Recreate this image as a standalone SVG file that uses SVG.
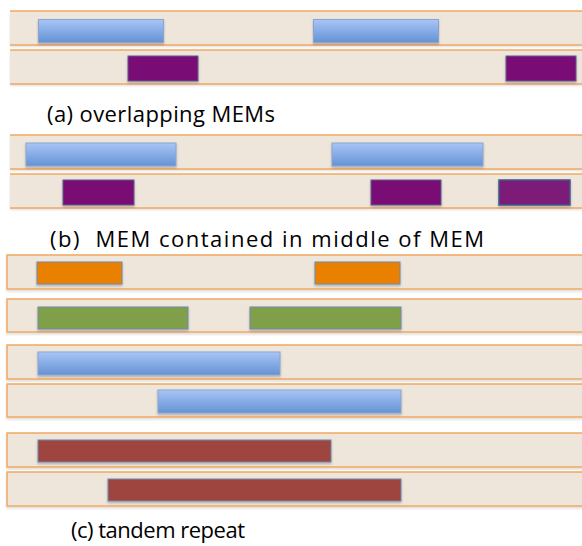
<svg xmlns="http://www.w3.org/2000/svg" width="582" height="546" viewBox="0 0 582 546">
<defs>
<linearGradient id="blueG" x1="0" y1="0" x2="0" y2="1">
<stop offset="0" stop-color="#A8C5F6"/>
<stop offset="1" stop-color="#6592D4"/>
</linearGradient>
<filter id="sh" x="-5%" y="-20%" width="110%" height="150%">
<feDropShadow dx="0" dy="1.5" stdDeviation="1" flood-color="#000" flood-opacity="0.25"/>
</filter>
<filter id="rsh" x="-2%" y="-20%" width="104%" height="150%">
<feDropShadow dx="0" dy="2" stdDeviation="1" flood-color="#000" flood-opacity="0.12"/>
</filter>
</defs>
<style>
.bg{fill:#EEE5DB;filter:url(#rsh)}
.ln{stroke:#F0A860;stroke-width:1.5;fill:none}
.box{fill:#EEE5DB;stroke:#F0A860;stroke-width:1.5;filter:url(#rsh)}
.bar{stroke:#7189AE;stroke-width:1;filter:url(#sh)}
.blue{fill:url(#blueG);stroke:#8AA6CF}
.purple{fill:#7A0F75;stroke:#5E5C8A}
.orange{fill:#EA8000}
.green{fill:#7FA04A}
.red{fill:#9F4540}
.lbl{font-family:"Open Sans","Liberation Sans",Arial,sans-serif;font-size:22px;fill:#000}
</style>

<g id="panel-a">
<g id="a-row1">
<rect class="bg" x="10" y="11" width="572" height="34"/>
<line class="ln" x1="10" y1="11" x2="582" y2="11"/>
<line class="ln" x1="10" y1="45" x2="582" y2="45"/>
</g>
<g id="a-row2">
<rect class="bg" x="10" y="50" width="572" height="34"/>
<line class="ln" x1="10" y1="50" x2="582" y2="50"/>
<line class="ln" x1="10" y1="84" x2="582" y2="84"/>
</g>
<g id="a-blue1"><rect class="bar blue" x="38.5" y="19.5" width="125" height="23"/></g>
<g id="a-blue2"><rect class="bar blue" x="313.5" y="19.5" width="125" height="23"/></g>
<g id="a-purple1"><rect class="bar purple" x="128" y="56" width="70" height="25"/></g>
<g id="a-purple2"><rect class="bar purple" x="506" y="56" width="70" height="25"/></g>
<text class="lbl" x="47" y="122" textLength="228" lengthAdjust="spacing">(a) overlapping MEMs</text>
</g>

<g id="panel-b">
<g id="b-row1">
<rect class="bg" x="10" y="135" width="572" height="34"/>
<line class="ln" x1="10" y1="135" x2="582" y2="135"/>
<line class="ln" x1="10" y1="169" x2="582" y2="169"/>
</g>
<g id="b-row2">
<rect class="bg" x="10" y="174" width="572" height="34"/>
<line class="ln" x1="10" y1="174" x2="582" y2="174"/>
<line class="ln" x1="10" y1="208" x2="582" y2="208"/>
</g>
<g id="b-blue1"><rect class="bar blue" x="26" y="143" width="150" height="23"/></g>
<g id="b-blue2"><rect class="bar blue" x="332" y="143" width="151" height="23"/></g>
<g id="b-purple1"><rect class="bar purple" x="63" y="180" width="71" height="25"/></g>
<g id="b-purple2"><rect class="bar purple" x="371" y="180" width="70" height="25"/></g>
<g id="b-purple3"><rect class="bar purple" x="499" y="180" width="71" height="25" style="fill:#7B1A78;stroke:#3F5C8C;stroke-width:1.5"/></g>
<text class="lbl" x="50" y="247" textLength="434" lengthAdjust="spacing" xml:space="preserve">(b)  MEM contained in middle of MEM</text>
</g>

<g id="panel-c">
<g id="c-row1"><rect class="box" x="7" y="255" width="580" height="34"/></g>
<g id="c-row2"><rect class="box" x="7" y="299" width="580" height="33"/></g>
<g id="c-row3"><rect class="box" x="7" y="345" width="580" height="34"/></g>
<g id="c-row4"><rect class="box" x="7" y="384" width="580" height="33"/></g>
<g id="c-row5"><rect class="box" x="7" y="433" width="580" height="34"/></g>
<g id="c-row6"><rect class="box" x="7" y="472" width="580" height="34"/></g>
<g id="c-orange1"><rect class="bar orange" x="37" y="262" width="85" height="22"/></g>
<g id="c-orange2"><rect class="bar orange" x="315" y="262" width="85" height="22"/></g>
<g id="c-green1"><rect class="bar green" x="38" y="307" width="150" height="22"/></g>
<g id="c-green2"><rect class="bar green" x="250" y="307" width="151" height="22"/></g>
<g id="c-blue1"><rect class="bar blue" x="38" y="352" width="242" height="23"/></g>
<g id="c-blue2"><rect class="bar blue" x="158" y="390" width="243" height="23"/></g>
<g id="c-red1"><rect class="bar red" x="38" y="440" width="293" height="22"/></g>
<g id="c-red2"><rect class="bar red" x="108" y="479" width="293" height="22"/></g>
<text class="lbl" x="71" y="538" textLength="174" lengthAdjust="spacing">(c) tandem repeat</text>
</g>
</svg>
